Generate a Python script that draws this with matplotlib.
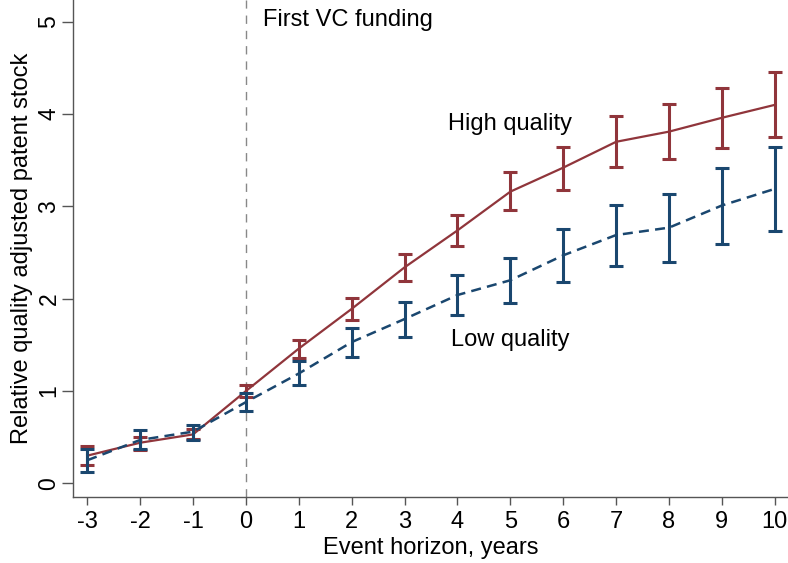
import matplotlib
matplotlib.use("Agg")
import matplotlib.pyplot as plt

plt.rcParams["font.family"] = ["Liberation Sans", "DejaVu Sans"]
plt.rcParams["axes.unicode_minus"] = False

# Horizon en années
horizon = [-3, -2, -1, 0, 1, 2, 3, 4, 5, 6, 7, 8, 9, 10]

# Haute qualité : estimation et intervalle
high = [0.30, 0.44, 0.53, 1.00, 1.46, 1.89, 2.34, 2.74, 3.16, 3.42, 3.70, 3.81, 3.96, 4.10]
high_lo = [0.20, 0.36, 0.48, 0.93, 1.36, 1.77, 2.19, 2.57, 2.96, 3.18, 3.43, 3.51, 3.63, 3.75]
high_hi = [0.40, 0.50, 0.59, 1.07, 1.55, 2.01, 2.48, 2.91, 3.37, 3.64, 3.98, 4.11, 4.28, 4.46]

# Basse qualité
low = [0.25, 0.47, 0.56, 0.88, 1.19, 1.53, 1.78, 2.04, 2.20, 2.47, 2.69, 2.77, 3.01, 3.19]
low_lo = [0.12, 0.37, 0.47, 0.78, 1.06, 1.37, 1.59, 1.82, 1.95, 2.18, 2.35, 2.40, 2.59, 2.73]
low_hi = [0.37, 0.58, 0.63, 0.98, 1.32, 1.68, 1.96, 2.26, 2.44, 2.75, 3.01, 3.13, 3.42, 3.64]

navy = "#1a476f"
maroon = "#90353b"
fs = 17

fig = plt.figure(figsize=(7.88, 5.63), dpi=100)
ax = fig.add_axes([73 / 788, 66 / 563, 715 / 788, 497 / 563])

ax.axvline(0, color="#888888", lw=1, ls=(0, (6, 5)), zorder=1)

def err(c, lo, hi):
    return [[ci - l for ci, l in zip(c, lo)], [h - ci for ci, h in zip(c, hi)]]

ax.errorbar(horizon, high, yerr=err(high, high_lo, high_hi), color=maroon,
            lw=1.6, elinewidth=2.2, capsize=5, capthick=2.2, zorder=3)
ax.errorbar(horizon, low, yerr=err(low, low_lo, low_hi), color=navy,
            lw=1.8, ls=(0, (4, 2.5)), elinewidth=2.2, capsize=5, capthick=2.2, zorder=4)

ax.text(0.33, 5.02, "First VC funding", fontsize=fs, ha="left", va="center")
ax.text(5.0, 3.89, "High quality", fontsize=fs, ha="center", va="center")
ax.text(5.0, 1.55, "Low quality", fontsize=fs, ha="center", va="center")

ax.set_xlim(-3.27, 10.25)
ax.set_ylim(-0.148, 5.236)
ax.set_xticks(horizon)
ax.set_yticks([0, 1, 2, 3, 4, 5])
ax.set_yticklabels(["0", "1", "2", "3", "4", "5"], rotation=90, va="center")
ax.tick_params(axis="x", labelsize=fs, color="#555555", length=6, width=1, pad=4)
ax.tick_params(axis="y", labelsize=16.5, color="#555555", length=8, width=1, pad=1)

for s in ["top", "right"]:
    ax.spines[s].set_visible(False)
for s in ["left", "bottom"]:
    ax.spines[s].set_color("#555555")
    ax.spines[s].set_linewidth(1)

ax.set_xlabel("Event horizon, years", fontsize=fs, labelpad=3)
ax.set_ylabel("Relative quality adjusted patent stock", fontsize=17, labelpad=3)

fig.savefig("out.png", dpi=100)
